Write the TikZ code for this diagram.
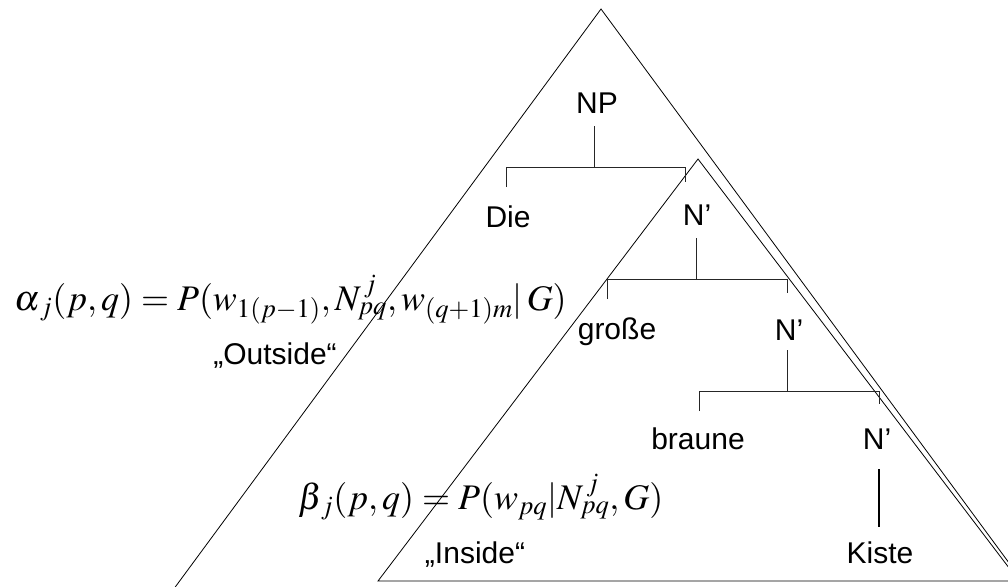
\documentclass[tikz,border=0pt]{standalone}
\usepackage{mathptmx}
\usepackage[no-math]{fontspec}
\setmainfont{Liberation Sans}
\begin{document}
\begin{tikzpicture}[x=1pt,y=-1pt,
  lab/.style={font=\fontsize{30}{32}\selectfont, inner sep=0pt, anchor=base},
  fm/.style={font=\fontsize{36}{40}\selectfont, inner sep=0pt, anchor=base west},
  tri/.style={line width=0.8pt, black},
  br/.style={line width=0.8pt, black!85},
  thick stem/.style={line width=2pt, black}]
\useasboundingbox (0,0) rectangle (1008,586);
\begin{scope}
  \clip (0,0) rectangle (1008,586);
  \coordinate (oa) at (601,9);
  \coordinate (ol) at (92,700);
  \coordinate (or) at (1110,700);
  \coordinate (ia) at (698,159);
  \coordinate (il) at (378,581);
  \coordinate (ir) at (1019,581);
  \draw[tri] (ol) -- (oa) -- (or);
  \draw[tri] (il) -- (ia) -- (ir) -- cycle;
\end{scope}
% labels
\node[lab] (np) at (597,113) {NP};
\node[lab] (die) at (508,227) {Die};
\node[lab] (n1) at (697,225) {N’};
\node[lab] (grosse) at (617,339) {große};
\node[lab] (n2) at (789,340) {N’};
\node[lab] (braune) at (698,449) {braune};
\node[lab] (n3) at (877,449) {N’};
\node[lab] (kiste) at (880,563) {Kiste};
\node[lab] (inside) at (475,563) {„Inside“};
\node[lab] (outside) at (275,364) {„Outside“};
% tree brackets
\coordinate (npS) at (594,126); \coordinate (npB) at (594,167);
\coordinate (b1L) at (506,167); \coordinate (b1R) at (685,167);
\coordinate (dieT) at (506,187); \coordinate (n1T) at (685,182);
\draw[br] (npS) -- (npB);
\draw[br] (dieT) -- (b1L) -- (b1R) -- (n1T);
\coordinate (n1S) at (696,238); \coordinate (n1B) at (696,279);
\coordinate (b2L) at (607,279); \coordinate (b2R) at (787,279);
\coordinate (grT) at (607,299); \coordinate (n2T) at (787,293);
\draw[br] (n1S) -- (n1B);
\draw[br] (grT) -- (b2L) -- (b2R) -- (n2T);
\coordinate (n2S) at (787,350); \coordinate (n2B) at (787,391);
\coordinate (b3L) at (699,391); \coordinate (b3R) at (879,391);
\coordinate (brT) at (699,411); \coordinate (n3T) at (879,404);
\draw[br] (n2S) -- (n2B);
\draw[br] (brT) -- (b3L) -- (b3R) -- (n3T);
\coordinate (n3S) at (879,469); \coordinate (kiT) at (879,527);
\draw[thick stem] (n3S) -- (kiT);
% formulas
\node[fm] (alpha) at (14,310) {$\alpha_{\,j}(p,q)=P(w_{1(p-1)},N^{\,j}_{pq},w_{(q+1)m}|\,G)$};
\node[fm] (beta) at (298,509) {$\beta_{\,j}(p,q)=P(w_{pq}|N^{\,j}_{pq},G)$};
\end{tikzpicture}
\end{document}
